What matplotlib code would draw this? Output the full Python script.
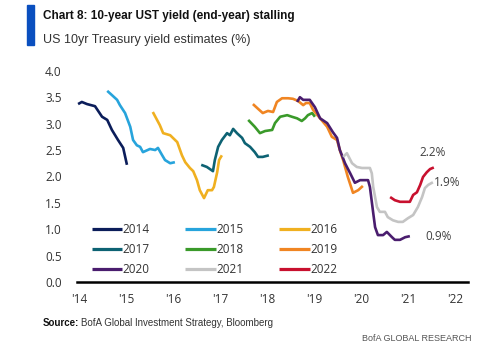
import matplotlib.pyplot as plt
from matplotlib.patches import Rectangle

# Monthly-ish tracks of the consensus year-end 10yr UST forecast, one per target year
t_2014 = [2013.98, 2014.06, 2014.17, 2014.34, 2014.49, 2014.60, 2014.70, 2014.83, 2014.94, 2015.02]
y_2014 = [3.37, 3.41, 3.37, 3.33, 3.13, 3.07, 2.88, 2.69, 2.54, 2.22]

t_2015 = [2014.60, 2014.70, 2014.81, 2014.87, 2014.98, 2015.09, 2015.15, 2015.23, 2015.30,
          2015.36, 2015.51, 2015.62, 2015.68, 2015.77, 2015.83, 2015.94, 2016.04]
y_2015 = [3.62, 3.54, 3.45, 3.35, 3.20, 2.94, 2.69, 2.59, 2.56,
          2.46, 2.52, 2.50, 2.54, 2.40, 2.31, 2.25, 2.27]

t_2016 = [2015.57, 2015.66, 2015.72, 2015.79, 2015.94, 2016.09, 2016.19, 2016.26, 2016.36, 2016.43,
          2016.51, 2016.57, 2016.66, 2016.74, 2016.83, 2016.87, 2016.94, 2016.98, 2017.04]
y_2016 = [3.22, 3.07, 2.97, 2.82, 2.78, 2.65, 2.40, 2.27, 2.16, 2.10,
          1.93, 1.74, 1.59, 1.74, 1.74, 1.80, 2.08, 2.31, 2.40]

t_2017 = [2016.60, 2016.72, 2016.85, 2016.89, 2016.96, 2017.04, 2017.15, 2017.21, 2017.28,
          2017.36, 2017.47, 2017.53, 2017.64, 2017.74, 2017.81, 2017.91, 2018.04]
y_2017 = [2.22, 2.18, 2.10, 2.31, 2.56, 2.69, 2.82, 2.78, 2.90,
          2.82, 2.73, 2.63, 2.56, 2.46, 2.37, 2.37, 2.40]

t_2018 = [2017.60, 2017.74, 2017.85, 2017.96, 2018.11, 2018.17, 2018.28, 2018.43,
          2018.53, 2018.64, 2018.74, 2018.81, 2018.87, 2018.96, 2019.02]
y_2018 = [3.07, 2.94, 2.82, 2.86, 2.88, 3.01, 3.13, 3.16,
          3.13, 3.10, 3.05, 3.10, 3.16, 3.20, 3.13]

t_2019 = [2017.70, 2017.81, 2017.91, 2018.02, 2018.13, 2018.21, 2018.32, 2018.45, 2018.55, 2018.66,
          2018.77, 2018.83, 2018.91, 2018.98, 2019.13, 2019.28, 2019.38, 2019.49, 2019.55, 2019.62,
          2019.72, 2019.83, 2019.94, 2020.04]
y_2019 = [3.37, 3.28, 3.20, 3.24, 3.22, 3.41, 3.48, 3.48, 3.47, 3.43,
          3.35, 3.39, 3.39, 3.26, 3.10, 2.94, 2.75, 2.69, 2.50, 2.31,
          1.99, 1.69, 1.74, 1.82]

t_2020 = [2018.64, 2018.70, 2018.77, 2018.91, 2019.02, 2019.13, 2019.28, 2019.40, 2019.49, 2019.55,
          2019.66, 2019.77, 2019.87, 2019.98, 2020.15, 2020.19, 2020.26, 2020.30, 2020.36, 2020.47,
          2020.55, 2020.66, 2020.72, 2020.83, 2020.94, 2021.04]
y_2020 = [3.41, 3.50, 3.45, 3.45, 3.31, 3.10, 3.01, 2.84, 2.73, 2.50,
          2.25, 2.06, 1.88, 1.93, 1.93, 1.80, 1.31, 1.04, 0.89, 0.89,
          0.95, 0.85, 0.80, 0.80, 0.85, 0.87]

t_2021 = [2019.62, 2019.70, 2019.81, 2019.91, 2020.02, 2020.19, 2020.23, 2020.26, 2020.34, 2020.40,
          2020.51, 2020.57, 2020.68, 2020.79, 2020.89, 2021.00, 2021.11, 2021.21, 2021.30, 2021.36,
          2021.43, 2021.53]
y_2021 = [2.37, 2.44, 2.25, 2.18, 2.16, 2.16, 2.06, 1.80, 1.42, 1.33,
          1.33, 1.23, 1.17, 1.14, 1.14, 1.21, 1.27, 1.42, 1.61, 1.78,
          1.84, 1.89]

t_2022 = [2020.62, 2020.72, 2020.83, 2021.04, 2021.11, 2021.19, 2021.26, 2021.32, 2021.40, 2021.47, 2021.55]
y_2022 = [1.61, 1.55, 1.52, 1.52, 1.65, 1.70, 1.84, 1.99, 2.08, 2.14, 2.17]

years = ["2014", "2015", "2016", "2017", "2018", "2019", "2020", "2021", "2022"]
series_t = [t_2014, t_2015, t_2016, t_2017, t_2018, t_2019, t_2020, t_2021, t_2022]
series_y = [y_2014, y_2015, y_2016, y_2017, y_2018, y_2019, y_2020, y_2021, y_2022]
colors = ["#0b1d5a", "#27a4dc", "#f0b020", "#0d6273", "#3a9a2a",
          "#f08522", "#4a1d6e", "#c4c4c4", "#c8102e"]

x_ticks = list(range(2014, 2023))
x_labels = ["'14", "'15", "'16", "'17", "'18", "'19", "'20", "'21", "'22"]
y_ticks = [0.0, 0.5, 1.0, 1.5, 2.0, 2.5, 3.0, 3.5, 4.0]

plt.rcParams['font.family'] = ['Open Sans', 'DejaVu Sans']
narrow = ['Liberation Sans', 'DejaVu Sans']

fig = plt.figure(figsize=(5.0, 3.47), dpi=100)
ax = fig.add_axes([0.154, 0.187, 0.782, 0.609])

lines = []
for name, ts, ys, c in zip(years, series_t, series_y, colors):
    ln, = ax.plot(ts, ys, color=c, lw=1.9, label=name, solid_capstyle='butt')
    lines.append(ln)

# end-point labels for the live forecasts
ax.annotate(f"{y_2022[-1]:.1f}%", (t_2022[-1], y_2022[-1]), xytext=(-1, 6),
            textcoords='offset points', fontsize=8.5, color='#404040', ha='center', va='bottom')
ax.annotate(f"{y_2021[-1]:.1f}%", (t_2021[-1], y_2021[-1]), xytext=(1, 0),
            textcoords='offset points', fontsize=8.5, color='#404040', ha='left', va='center')
ax.annotate(f"{y_2020[-1]:.1f}%", (t_2020[-1], y_2020[-1]), xytext=(11, 0),
            textcoords='offset points', fontsize=8.5, color='#404040', ha='left', va='center')

ax.set_xlim(2013.957, 2022.277)
ax.set_ylim(0, 4.0)
ax.set_xticks(x_ticks)
ax.set_xticklabels(x_labels)
ax.set_yticks(y_ticks)
ax.set_yticklabels([f"{v:.1f}" for v in y_ticks])
ax.tick_params(length=0, labelsize=8.5, colors='#333333')
ax.tick_params(axis='x', pad=8)
ax.tick_params(axis='y', pad=11)
for s in ['top', 'right', 'left']:
    ax.spines[s].set_visible(False)
ax.spines['bottom'].set_linewidth(1.8)
ax.spines['bottom'].set_color('black')

# legend reads across rows: 2014 2015 2016 / 2017 ...
order = [0, 3, 6, 1, 4, 7, 2, 5, 8]
leg = ax.legend([lines[i] for i in order], [years[i] for i in order],
                ncol=3, loc='lower left', bbox_to_anchor=(0.022, 0.0),
                frameon=False, fontsize=8.5, handlelength=2.6, handletextpad=0.05,
                columnspacing=3.0, labelspacing=0.6, borderpad=0)
for t in leg.get_texts():
    t.set_color('#333333')
for h in leg.get_lines():
    h.set_linewidth(2.3)

# header block
fig.patches.append(Rectangle((0.054, 0.87), 0.014, 0.115, transform=fig.transFigure,
                             color='#0a4fbf', zorder=5))
fig.text(0.086, 0.955, "Chart 8: 10-year UST yield (end-year) stalling", fontsize=8.5,
         fontweight='bold', color='#111111', va='center', family=narrow)
fig.text(0.086, 0.885, "US 10yr Treasury yield estimates (%)", fontsize=9,
         color='#333333', va='center', family=narrow)

fig.text(0.086, 0.07, "Source:", fontsize=7, fontweight='bold', color='#111111',
         va='center', family=narrow)
fig.text(0.162, 0.07, "BofA Global Investment Strategy, Bloomberg", fontsize=7,
         color='#333333', va='center', family=narrow)
fig.text(0.944, 0.025, "BofA GLOBAL RESEARCH", fontsize=6.5, color='#555555',
         va='center', ha='right', family=narrow)

fig.savefig("out.png", dpi=100)
